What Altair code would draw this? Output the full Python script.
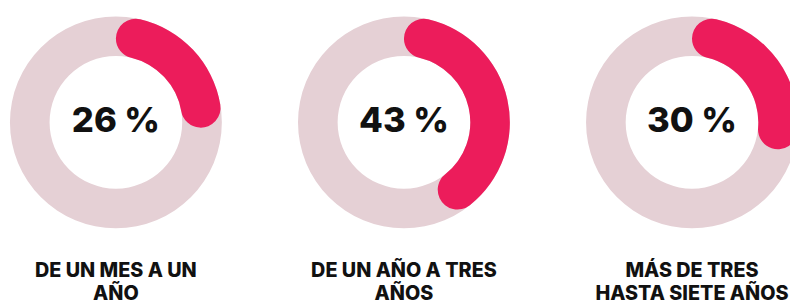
import altair as alt
import pandas as pd

categories = ["DE UN MES A UN\nAÑO", "DE UN AÑO A TRES\nAÑOS", "MÁS DE TRES\nHASTA SIETE AÑOS"]
values = [26, 43, 30]
value_labels = ["26 %", "43 %", "30 %"]

RED = "#EC1C5B"
GREY = "#E5D0D5"

df = pd.DataFrame({
    "cat": categories,
    "value": values,
    "label": value_labels,
    "start": [0] * len(values),
    "full": [100] * len(values),
})

x_enc = alt.X("cat:N", sort=categories, axis=None,
              scale=alt.Scale(type="point", padding=0.3574, align=0.524))
theta_scale = alt.Scale(domain=[0, 100], range=[0, 6.283185307179586])

base = alt.Chart(df)

bg = base.mark_arc(radius=107, radius2=67, color=GREY, clip=True).encode(
    x=x_enc,
    theta=alt.Theta("start:Q", scale=theta_scale, stack=None),
    theta2="full:Q",
)

fg = base.mark_arc(radius=107, radius2=67, color=RED, cornerRadius=20, clip=True).encode(
    x=x_enc,
    theta=alt.Theta("start:Q", scale=theta_scale, stack=None),
    theta2="value:Q",
)

nums = base.mark_text(font="Inter", fontWeight=800, fontSize=35, color="#111111",
                      baseline="alphabetic", align="center", dy=10).encode(
    x=x_enc,
    text="label:N",
)

labels = base.mark_text(font="Inter", fontWeight=800, fontSize=20, color="#111111",
                        baseline="alphabetic", align="center", dy=156,
                        lineBreak="\n", lineHeight=23).encode(
    x=x_enc,
    text="cat:N",
)

chart = alt.layer(bg, fg, nums, labels).properties(
    width=790,
    height=228,
    autosize=alt.AutoSizeParams(type="none"),
    padding={"left": 0, "top": 0, "right": 0, "bottom": 66},
).configure_view(stroke=None)

chart.save("out.html", embed_options={"renderer": "svg", "actions": False})
